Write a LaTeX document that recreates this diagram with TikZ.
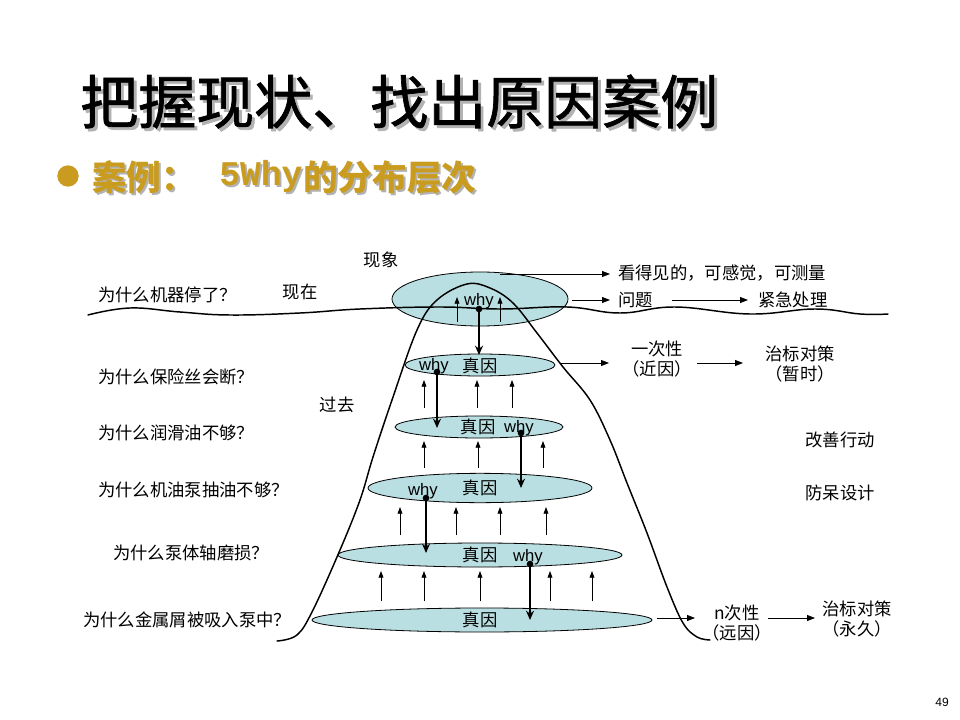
\documentclass[tikz,border=0pt]{standalone}
\usepackage{fontspec}
\setmainfont{Liberation Sans}
\newfontfamily\cjk{Noto Sans CJK SC}
\newfontfamily\cjkt[FakeBold=1.2]{Noto Sans CJK SC}
\newfontfamily\monob{Liberation Mono}
\usetikzlibrary{arrows.meta,shapes.geometric}
\definecolor{gold}{RGB}{201,156,32}
\definecolor{ellfill}{RGB}{186,223,226}
\newcommand\shadowtxt[3]{\makebox[0pt][l]{\hspace{#1}\raisebox{-#1}{\textcolor{black!30}{#3}}}\textcolor{#2}{#3}}
\begin{document}
\begin{tikzpicture}[x=0.75pt,y=-0.75pt,
  ell/.style={draw=black, line width=0.6pt, fill=ellfill, ellipse, inner sep=0pt},
  lbl/.style={font=\cjk\fontsize{13}{15}\selectfont, inner sep=0pt},
  whyt/.style={font=\fontsize{12.5}{14}\selectfont, inner sep=0pt},
  thinarr/.style={-{Triangle[length=5pt,width=3.6pt]}, line width=0.6pt},
  thickarr/.style={-{Stealth[length=7pt,width=6pt]}, line width=1.5pt},
  harr/.style={-{Triangle[length=6pt,width=4.5pt]}, line width=0.6pt},
  dotn/.style={circle, fill=black, minimum size=5pt, inner sep=0pt},
  curveline/.style={line width=1.1pt, line cap=round}
]
\useasboundingbox (0,0) rectangle (960,720);
\fill[white] (0,0) rectangle (960,720);

% title
\node[font=\cjkt\fontsize{43.5}{50}\selectfont, anchor=west, inner sep=0pt] (title) at (80,103) {\shadowtxt{2.2pt}{black}{把握现状、找出原因案例}};

% subtitle
\node[circle, fill=gold, minimum size=16pt, inner sep=0pt] (bul) at (68,176) {};
\node[font=\cjk\bfseries\fontsize{26}{30}\selectfont, anchor=west, inner sep=0pt] (sub1) at (92,178) {\shadowtxt{1.5pt}{gold}{案例：}};
\node[font=\monob\bfseries\fontsize{26}{30}\selectfont, anchor=west, inner sep=0pt] (sub2) at (219,178) {\shadowtxt{1.5pt}{gold}{5Why}};
\node[font=\cjk\bfseries\fontsize{26}{30}\selectfont, anchor=west, inner sep=0pt] (sub3) at (303,178) {\shadowtxt{1.5pt}{gold}{的分布层次}};

% ellipses
\node[ell, minimum width=132pt, minimum height=40.5pt] (e1) at (480,299) {};
\node[ell, minimum width=112.5pt, minimum height=16.5pt] (e2) at (480,365) {};
\node[ell, minimum width=126pt, minimum height=16.5pt] (e3) at (479,427) {};
\node[ell, minimum width=168pt, minimum height=22pt] (e4) at (480,488) {};
\node[ell, minimum width=213pt, minimum height=18pt] (e5) at (480,555) {};
\node[ell, minimum width=255pt, minimum height=18pt] (e6) at (482,620) {};

% wavy ground line
\draw[curveline] plot[smooth, tension=0.7] coordinates {(88,315) (130,308) (180,312) (230,315) (300,313) (360,309) (440,307) (500,309) (567,307) (620,313) (675,307) (750,314) (815,309) (860,314) (888,314)};

% bell curve
\draw[curveline] plot[smooth, tension=0.6] coordinates {(277,641) (297,635) (313,610) (340,550) (360,500) (373,457) (392,400) (417,330) (437,300) (467,284) (490,288) (513,303) (537,333) (563,367) (590,400) (610,440) (627,483) (647,533) (667,587) (683,623) (697,637) (710,640)};

% thin upward arrows
\foreach \x/\a/\b [count=\i] in {457/322/297, 500/322/297,
  424/408/380, 477/408/380, 512/408/380,
  424/468/441, 478/468/441, 543/468/441,
  400/535/507, 456/535/507, 500/535/507, 546/535/507,
  381/601/571, 424/601/571, 480/601/571, 550/601/571, 592/601/571}{
  \coordinate (ua\i) at (\x,\a);
  \coordinate (ub\i) at (\x,\b);
  \draw[thinarr] (ua\i) -- (ub\i);
}

% texts inside ellipses
\node[whyt] (w1) at (479,301) {why};
\node[whyt] (w2) at (434,366) {why};
\node[lbl] (z2) at (480,366) {真因};
\node[lbl] (z3) at (478,427) {真因};
\node[whyt] (w3) at (519,428) {why};
\node[whyt] (w4) at (423,491) {why};
\node[lbl] (z4) at (480,488) {真因};
\node[lbl] (z5) at (480,555) {真因};
\node[whyt] (w5) at (528,557) {why};
\node[lbl] (z6) at (480,620) {真因};

% thick why arrows
\node[dotn] (d1) at (479,309) {};
\node[dotn] (d2) at (437,372) {};
\node[dotn] (d3) at (521,433) {};
\node[dotn] (d4) at (426,498) {};
\node[dotn] (d5) at (530,564) {};
\coordinate (t1) at (479,355);
\coordinate (t2) at (437,428);
\coordinate (t3) at (521,488);
\coordinate (t4) at (426,553);
\coordinate (t5) at (530,620);
\draw[thickarr] (d1.center) -- (t1);
\draw[thickarr] (d2.center) -- (t2);
\draw[thickarr] (d3.center) -- (t3);
\draw[thickarr] (d4.center) -- (t4);
\draw[thickarr] (d5.center) -- (t5);

% left labels
\node[lbl] (xx) at (381,260) {现象};
\node[lbl] (xz) at (300,292) {现在};
\node[lbl] (gq) at (337,405) {过去};
\node[lbl, anchor=west] (q1) at (98,295) {为什么机器停了？};
\node[lbl, anchor=west] (q2) at (98,377) {为什么保险丝会断？};
\node[lbl, anchor=west] (q3) at (98,433) {为什么润滑油不够？};
\node[lbl, anchor=west] (q4) at (98,490) {为什么机油泵抽油不够？};
\node[lbl, anchor=west] (q5) at (113,553) {为什么泵体轴磨损？};
\node[lbl, anchor=west] (q6) at (83,620) {为什么金属屑被吸入泵中？};

% right side
\node[lbl, anchor=west] (r1) at (618,273) {看得见的，可感觉，可测量};
\node[lbl, anchor=west] (r2) at (618,300) {问题};
\node[lbl, anchor=west] (r3) at (758,300) {紧急处理};
\coordinate (s1) at (500,274);
\coordinate (s1e) at (610,274);
\coordinate (s2) at (572,300);
\coordinate (s2e) at (610,300);
\coordinate (s7) at (672,300);
\coordinate (s7e) at (748,300);
\draw[harr] (s1) -- (s1e);
\draw[harr] (s2) -- (s2e);
\draw[harr] (s7) -- (s7e);

\node[lbl, align=center] (r4) at (657,359) {一次性\\（近因）};
\node[lbl, align=center] (r5) at (800,364) {治标对策\\（暂时）};
\coordinate (s3) at (560,363);
\coordinate (s3e) at (609,363);
\coordinate (s4) at (697,363);
\coordinate (s4e) at (743,363);
\draw[harr] (s3) -- (s3e);
\draw[harr] (s4) -- (s4e);

\node[lbl] (r6) at (840,440) {改善行动};
\node[lbl] (r7) at (840,493) {防呆设计};

\node[lbl, align=center] (r8) at (737,623) {n次性\\（远因）};
\node[lbl, align=center] (r9) at (857,619) {治标对策\\（永久）};
\coordinate (s5) at (657,618);
\coordinate (s5e) at (695,618);
\coordinate (s6) at (768,618);
\coordinate (s6e) at (815,618);
\draw[harr] (s5) -- (s5e);
\draw[harr] (s6) -- (s6e);

% page number
\node[font=\fontsize{9}{10}\selectfont, inner sep=0pt] (pg) at (942,702) {49};
\end{tikzpicture}
\end{document}
